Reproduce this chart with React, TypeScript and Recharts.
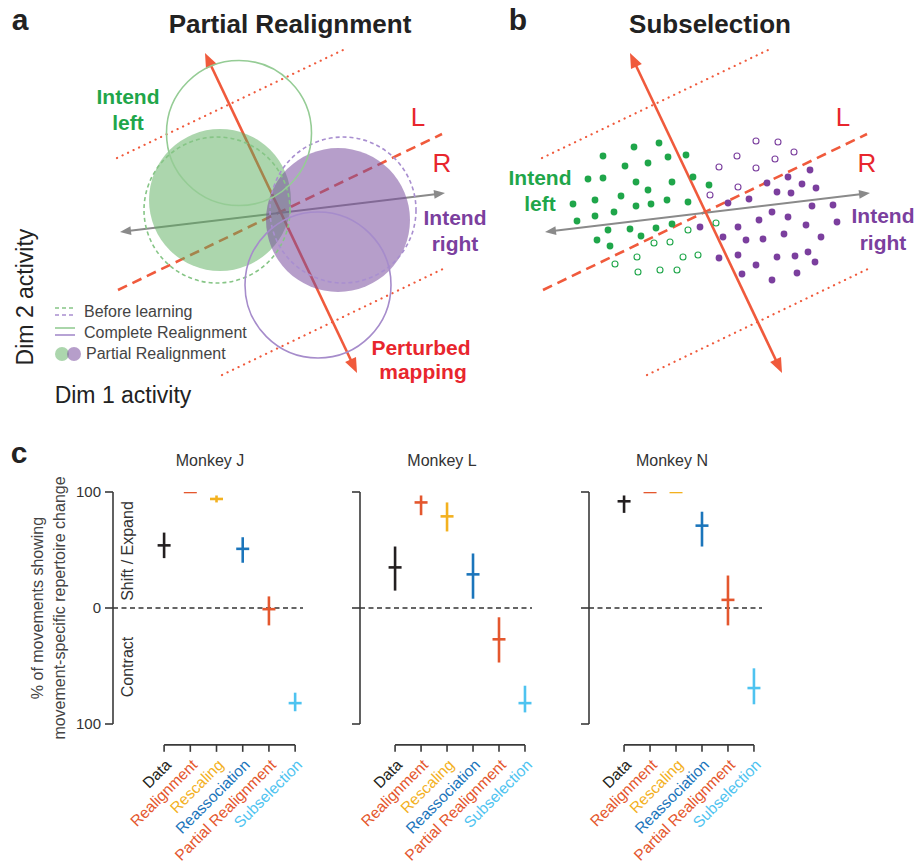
import React from 'react';
import { ScatterChart, Scatter, XAxis, YAxis, ReferenceLine, ErrorBar } from 'recharts';

const FONT = '"Liberation Sans", Arial, Helvetica, sans-serif';

// ---- panels a & b: schematic neural state space (origin = crossing of the two decoder axes)
const PERTURBED_AXIS = [{ x: -7.5, y: 15.9 }, { x: 7.7, y: -16.1 }];
const INTUITIVE_AXIS = [{ x: -16, y: -2 }, { x: 16.5, y: 1.9 }];
const UPPER_BOUND = [{ x: -16.3, y: 5.4 }, { x: 6.3, y: 16.2 }];
const LOWER_BOUND = [{ x: -5.8, y: -16.3 }, { x: 16.7, y: -5.5 }];
const LR_BOUND = [{ x: -16.2, y: -7.8 }, { x: 16.2, y: 7.8 }];

// panel a: activity clouds, centre + radius
const CLOUDS_PARTIAL = [
  { target: 'left', x: -6, y: 1.2, r: 7.1 },
  { target: 'right', x: 5.8, y: -0.8, r: 7.2 },
];
const CLOUDS_BEFORE = [
  { target: 'left', x: -6.3, y: 0.2, r: 7.3 },
  { target: 'right', x: 6.3, y: 0.2, r: 7.3 },
];
const CLOUDS_COMPLETE = [
  { target: 'left', x: -4.1, y: 7.9, r: 7.25 },
  { target: 'right', x: 3.8, y: -7.3, r: 7.3 },
];

// panel b: individual activity patterns
const LEFT_KEPT = [
  [-10.2, 5.6], [-7.1, 6.5], [-4.6, 6.9], [-8.0, 4.6], [-5.7, 4.9], [-3.7, 5.5], [-1.9, 5.7],
  [-10.2, 3.4], [-11.7, 3.3], [-6.9, 3.0], [-5.7, 2.2], [-3.3, 3.0], [-1.2, 3.5], [0.4, 2.7],
  [-13.2, 0.8], [-11.0, 1.2], [-8.4, 1.6], [-6.9, 0.6], [-5.4, 0.8], [-3.8, 1.2], [-1.7, 1.0],
  [-12.8, -0.9], [-11.0, -0.4], [-9.1, 0.0], [-9.7, -1.8], [-7.5, -1.7], [-4.9, -1.6], [-3.3, -1.2],
  [-10.8, -2.8], [-9.5, -3.4], [-6.4, -2.4],
];
const LEFT_DROPPED = [
  [-1.7, -1.8], [1.1, -1.1], [-5.1, -3.1], [-3.5, -3.0], [-6.8, -4.5], [-2.2, -4.5],
  [-0.7, -4.3], [-9.0, -5.2], [-6.7, -6.0], [-4.5, -5.8], [-2.8, -5.8],
];
const RIGHT_KEPT = [
  [10.5, 4.2], [8.3, 3.5], [6.2, 2.9], [9.7, 2.8], [11.1, 2.4], [7.2, 2.0], [8.6, 1.9],
  [4.4, 1.3], [2.3, 0.9], [10.7, 0.6], [12.8, 0.7], [6.7, 0.0], [8.3, -0.5], [5.4, -0.8],
  [3.3, -1.5], [-0.5, -1.5], [10.1, -1.3], [13.2, -1.0], [7.9, -2.2], [1.8, -2.5], [4.1, -2.8],
  [5.8, -2.7], [11.6, -2.5], [1.4, -4.6], [3.3, -4.3], [7.2, -4.5], [9.0, -4.4], [10.3, -4.0],
  [11.0, -5.0], [5.1, -5.3], [3.7, -6.2], [6.7, -6.8], [9.2, -6.1],
];
const RIGHT_DROPPED = [
  [5.1, 7.1], [7.3, 7.0], [3.2, 5.6], [8.9, 6.0], [1.4, 4.5], [5.1, 4.4], [7.0, 5.3], [3.3, 2.5], [0.5, 1.7],
];

// ---- panel c: % of movements showing movement-specific repertoire change
const MODELS = ['Data', 'Realignment', 'Rescaling', 'Reassociation', 'Partial Realignment', 'Subselection'];
const MODEL_COLORS = ['#231f20', '#e4572e', '#f3b11f', '#1b75bb', '#e4572e', '#4ec3f0'];

const J_MEAN = [54, 100, 94, 51, -1, -82];
const J_LOW = [43, 100, 91, 39, -15, -89];
const J_HIGH = [65, 100, 97, 61, 10, -73];

const L_MEAN = [35, 91, 79, 29, -27, -82];
const L_LOW = [15, 80, 66, 8, -47, -90];
const L_HIGH = [53, 97, 91, 47, -8, -67];

const N_MEAN = [92, 100, 100, 71, 7, -69];
const N_LOW = [82, 100, 100, 53, -15, -83];
const N_HIGH = [97, 100, 100, 83, 28, -52];

const Y_TICKS = [-100, 0, 100];

const GREEN = '#1fa64a';
const PURPLE = '#7b3f9e';
const RED_TEXT = '#e8262d';
const RED_LINE = '#f05a3c';
const GRAY = '#8a8a8a';
const AXIS = '#3a3a3a';

const SCHEMA_X: [number, number] = [-28, 18];
const SCHEMA_Y: [number, number] = [-20.8, 17.2];
const SCHEMA_W = 460;
const SCHEMA_H = 380;
const PX = SCHEMA_W / (SCHEMA_X[1] - SCHEMA_X[0]);

const toPts = (arr: number[][]) => arr.map(([x, y]) => ({ x, y }));

function arrowShape(color: string, width: number, head: number) {
  return (p: any) => {
    const { x1, y1, x2, y2 } = p;
    const dx = x2 - x1;
    const dy = y2 - y1;
    const len = Math.hypot(dx, dy);
    const ux = dx / len;
    const uy = dy / len;
    const w = head * 0.4;
    const tri = (tx: number, ty: number, s: number) => {
      const bx = tx - s * ux * head;
      const by = ty - s * uy * head;
      return `${tx},${ty} ${bx - uy * w},${by + ux * w} ${bx + uy * w},${by - ux * w}`;
    };
    return (
      <g>
        <line
          x1={x1 + ux * head * 0.7}
          y1={y1 + uy * head * 0.7}
          x2={x2 - ux * head * 0.7}
          y2={y2 - uy * head * 0.7}
          stroke={color}
          strokeWidth={width}
        />
        <polygon points={tri(x2, y2, 1)} fill={color} />
        <polygon points={tri(x1, y1, -1)} fill={color} />
      </g>
    );
  };
}

const cloudFill = (p: any) => (
  <circle
    cx={p.cx}
    cy={p.cy}
    r={p.payload.r * PX}
    fill={p.payload.target === 'left' ? '#5aae5c' : '#7a4e9e'}
    fillOpacity={p.payload.target === 'left' ? 0.5 : 0.55}
  />
);
const cloudDashed = (p: any) => (
  <circle
    cx={p.cx}
    cy={p.cy}
    r={p.payload.r * PX}
    fill="none"
    stroke={p.payload.target === 'left' ? '#86c586' : '#a98fd0'}
    strokeWidth={1.6}
    strokeDasharray="4 3"
  />
);
const cloudOutline = (p: any) => (
  <circle
    cx={p.cx}
    cy={p.cy}
    r={p.payload.r * PX}
    fill="none"
    stroke={p.payload.target === 'left' ? '#95cc95' : '#a68ccb'}
    strokeWidth={1.6}
  />
);
const dotShape = (color: string, open: boolean) => (p: any) => (
  <circle
    cx={p.cx}
    cy={p.cy}
    r={open ? 3 : 3.4}
    fill={open ? '#fff' : color}
    stroke={color}
    strokeWidth={open ? 1.1 : 0}
  />
);

function Schema({ left, children }: { left: number; children: React.ReactNode }) {
  return (
    <div style={{ position: 'absolute', left, top: 40 }}>
      <ScatterChart width={SCHEMA_W} height={SCHEMA_H} margin={{ top: 0, right: 0, bottom: 0, left: 0 }}>
        <XAxis type="number" dataKey="x" domain={SCHEMA_X} allowDataOverflow hide />
        <YAxis type="number" dataKey="y" domain={SCHEMA_Y} allowDataOverflow hide width={0} />
        {children}
        <ReferenceLine segment={UPPER_BOUND} stroke={RED_LINE} strokeWidth={2.2} strokeDasharray="0.1 6" strokeLinecap="round" />
        <ReferenceLine segment={LOWER_BOUND} stroke={RED_LINE} strokeWidth={2.2} strokeDasharray="0.1 6" strokeLinecap="round" />
        <ReferenceLine segment={LR_BOUND} stroke={RED_LINE} strokeWidth={2.6} strokeDasharray="10 6" />
        <ReferenceLine segment={INTUITIVE_AXIS} shape={arrowShape(GRAY, 2, 11)} />
        <ReferenceLine segment={PERTURBED_AXIS} shape={arrowShape(RED_LINE, 2.6, 15)} />
      </ScatterChart>
    </div>
  );
}

const BASE = -118;

const renderModelTick = (p: any) => {
  const i = p.payload.value;
  return (
    <text
      transform={`translate(${p.x + 8},${p.y + 42}) rotate(-45)`}
      textAnchor="end"
      fontSize={15.5}
      fontFamily={FONT}
      fill={MODEL_COLORS[i]}
    >
      {MODELS[i]}
    </text>
  );
};

const dashShape = (color: string) => (p: any) => (
  <line x1={p.cx - 6.5} x2={p.cx + 6.5} y1={p.cy} y2={p.cy} stroke={color} strokeWidth={2.6} />
);

interface MonkeyProps {
  mean: number[];
  low: number[];
  high: number[];
  left: number;
  axisWidth: number;
  width: number;
  xDomain: [number, number];
  labelled?: boolean;
}

function MonkeyPlot({ mean, low, high, left, axisWidth, width, xDomain, labelled }: MonkeyProps) {
  return (
    <div style={{ position: 'absolute', left, top: 440 }}>
      <ScatterChart width={width} height={423} margin={{ top: 52, right: 8, bottom: 0, left: 0 }}>
        <XAxis
          type="number"
          dataKey="x"
          domain={xDomain}
          allowDataOverflow
          ticks={[0, 1, 2, 3, 4, 5]}
          interval={0}
          axisLine={false}
          tickLine={false}
          tickSize={0}
          tickMargin={0}
          height={139}
          tick={renderModelTick}
        />
        <YAxis
          type="number"
          dataKey="y"
          domain={[-100, 100]}
          allowDataOverflow
          ticks={Y_TICKS}
          interval={0}
          width={axisWidth}
          tickSize={8}
          tickMargin={4}
          axisLine={{ stroke: AXIS, strokeWidth: 1.6 }}
          tickLine={{ stroke: AXIS, strokeWidth: 1.6 }}
          tick={{ fontSize: 15, fill: '#333', fontFamily: FONT }}
          tickFormatter={(v: number) => (labelled ? String(Math.abs(v)) : '')}
        />
        <ReferenceLine y={0} stroke="#333" strokeWidth={1.3} strokeDasharray="5 3.5" />
        <ReferenceLine
          segment={[{ x: 0, y: BASE }, { x: 5, y: BASE }]}
          ifOverflow="visible"
          stroke={AXIS}
          strokeWidth={1.6}
        />
        {MODELS.map((m, i) => (
          <ReferenceLine
            key={'tick-' + m}
            segment={[{ x: i, y: BASE }, { x: i, y: BASE - 6 }]}
            ifOverflow="visible"
            stroke={AXIS}
            strokeWidth={1.6}
          />
        ))}
        {MODELS.map((m, i) => (
          <Scatter
            key={m}
            data={[{ x: i, y: mean[i], err: [mean[i] - low[i], high[i] - mean[i]] }]}
            shape={dashShape(MODEL_COLORS[i])}
            isAnimationActive={false}
          >
            <ErrorBar dataKey="err" direction="y" width={0} stroke={MODEL_COLORS[i]} strokeWidth={2.6} />
          </Scatter>
        ))}
      </ScatterChart>
    </div>
  );
}

function Txt({
  x, y, size, color = '#222', bold = false, rotate = 0, align = 'center', children, lineHeight,
}: {
  x: number; y: number; size: number; color?: string; bold?: boolean; rotate?: number;
  align?: 'center' | 'left'; children: React.ReactNode; lineHeight?: number;
}) {
  const tx = align === 'center' ? '-50%' : '0';
  return (
    <div
      style={{
        position: 'absolute',
        left: x,
        top: y,
        transform: `translate(${tx},-50%)${rotate ? ` rotate(${rotate}deg)` : ''}`,
        fontSize: size,
        color,
        fontWeight: bold ? 700 : 400,
        fontFamily: FONT,
        whiteSpace: 'nowrap',
        lineHeight: lineHeight ? `${lineHeight}px` : 1,
        textAlign: 'center',
      }}
    >
      {children}
    </div>
  );
}

export default function App() {
  return (
    <div style={{ position: 'absolute', left: 0, top: 0, width: 917, height: 863, background: '#fff', overflow: 'hidden' }}>
      {/* panel a */}
      <Schema left={0}>
        <Scatter data={CLOUDS_PARTIAL} shape={cloudFill} isAnimationActive={false} />
        <Scatter data={CLOUDS_BEFORE} shape={cloudDashed} isAnimationActive={false} />
        <Scatter data={CLOUDS_COMPLETE} shape={cloudOutline} isAnimationActive={false} />
      </Schema>
      {/* panel b */}
      <Schema left={425}>
        <Scatter data={toPts(LEFT_KEPT)} shape={dotShape(GREEN, false)} isAnimationActive={false} />
        <Scatter data={toPts(LEFT_DROPPED)} shape={dotShape(GREEN, true)} isAnimationActive={false} />
        <Scatter data={toPts(RIGHT_KEPT)} shape={dotShape(PURPLE, false)} isAnimationActive={false} />
        <Scatter data={toPts(RIGHT_DROPPED)} shape={dotShape(PURPLE, true)} isAnimationActive={false} />
      </Schema>

      <Txt x={20} y={20} size={30} bold>a</Txt>
      <Txt x={290} y={24} size={26} bold>Partial Realignment</Txt>
      <Txt x={128} y={96} size={21} bold color={GREEN}>Intend</Txt>
      <Txt x={128} y={122} size={21} bold color={GREEN}>left</Txt>
      <Txt x={418} y={117} size={26} color={RED_TEXT}>L</Txt>
      <Txt x={442} y={163} size={26} color={RED_TEXT}>R</Txt>
      <Txt x={455} y={217} size={21} bold color={PURPLE}>Intend</Txt>
      <Txt x={455} y={243} size={21} bold color={PURPLE}>right</Txt>
      <Txt x={421} y={347} size={21} bold color={RED_TEXT}>Perturbed</Txt>
      <Txt x={423} y={371} size={21} bold color={RED_TEXT}>mapping</Txt>
      <Txt x={25} y={297} size={23} rotate={-90}>Dim 2 activity</Txt>
      <Txt x={123} y={395} size={23}>Dim 1 activity</Txt>

      {/* legend of panel a */}
      <svg style={{ position: 'absolute', left: 50, top: 300 }} width={36} height={64}>
        <line x1={5} x2={25} y1={8} y2={8} stroke="#86c586" strokeWidth={1.6} strokeDasharray="4 3" />
        <line x1={5} x2={25} y1={15} y2={15} stroke="#a98fd0" strokeWidth={1.6} strokeDasharray="4 3" />
        <line x1={5} x2={25} y1={28} y2={28} stroke="#95cc95" strokeWidth={1.6} />
        <line x1={5} x2={25} y1={35} y2={35} stroke="#a68ccb" strokeWidth={1.6} />
        <circle cx={12} cy={54} r={7} fill="#5aae5c" fillOpacity={0.5} />
        <circle cx={24} cy={54} r={7} fill="#7a4e9e" fillOpacity={0.55} />
      </svg>
      <Txt x={84} y={312} size={16} color="#444" align="left">Before learning</Txt>
      <Txt x={84} y={333} size={16} color="#444" align="left">Complete Realignment</Txt>
      <Txt x={86} y={354} size={16} color="#444" align="left">Partial Realignment</Txt>

      <Txt x={518} y={20} size={30} bold>b</Txt>
      <Txt x={710} y={24} size={26} bold>Subselection</Txt>
      <Txt x={540} y={177} size={21} bold color={GREEN}>Intend</Txt>
      <Txt x={540} y={203} size={21} bold color={GREEN}>left</Txt>
      <Txt x={843} y={117} size={26} color={RED_TEXT}>L</Txt>
      <Txt x={867} y={163} size={26} color={RED_TEXT}>R</Txt>
      <Txt x={883} y={215} size={21} bold color={PURPLE}>Intend</Txt>
      <Txt x={883} y={242} size={21} bold color={PURPLE}>right</Txt>

      {/* panel c */}
      <MonkeyPlot mean={J_MEAN} low={J_LOW} high={J_HIGH} left={0} axisWidth={113} width={311} xDomain={[-1.95, 5.3]} labelled />
      <MonkeyPlot mean={L_MEAN} low={L_LOW} high={L_HIGH} left={320} axisWidth={40} width={220} xDomain={[-1.35, 5.27]} />
      <MonkeyPlot mean={N_MEAN} low={N_LOW} high={N_HIGH} left={549} axisWidth={40} width={221} xDomain={[-1.35, 5.31]} />

      <Txt x={19} y={453} size={30} bold>c</Txt>
      <Txt x={210} y={461} size={16} color="#333">Monkey J</Txt>
      <Txt x={442} y={461} size={16} color="#333">Monkey L</Txt>
      <Txt x={672} y={461} size={16} color="#333">Monkey N</Txt>
      <Txt x={49} y={608} size={16} color="#444" rotate={-90} lineHeight={22}>
        % of movements showing
        <br />
        movement-specific repertoire change
      </Txt>
      <Txt x={128} y={551} size={16} color="#333" rotate={-90}>Shift / Expand</Txt>
      <Txt x={128} y={667} size={16} color="#333" rotate={-90}>Contract</Txt>
    </div>
  );
}
